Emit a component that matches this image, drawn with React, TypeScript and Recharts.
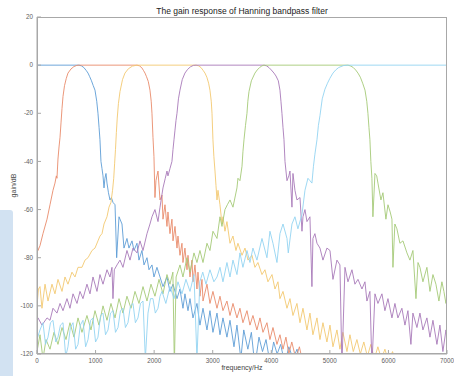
import React from "react";
import { LineChart, Line, XAxis, YAxis } from "recharts";

type Pt = [number, number];

// frequency (Hz) / gain (dB) pairs
const xTicks = [0, 1000, 2000, 3000, 4000, 5000, 6000, 7000];
const yTicks = [-120, -100, -80, -60, -40, -20, 0, 20];

const band1: Pt[] = [
  [0, 0], [717, 0], [760, -0.3], [800, -1], [840, -2.2], [871, -3.3], [900, -4.8], [930, -6.5], [960, -8.5], [990, -10.4],
  [1020, -15], [1041, -20], [1060, -26], [1075, -31], [1092, -40], [1110, -43], [1127, -46], [1144, -51], [1160, -47], [1178, -45],
  [1195, -49], [1220, -53], [1246, -56], [1270, -55], [1297, -57], [1332, -58], [1360, -80], [1400, -63], [1451, -66], [1485, -76],
  [1536, -72], [1570, -76], [1622, -73], [1656, -77], [1707, -74], [1741, -81], [1792, -77], [1827, -83], [1878, -80], [1912, -85],
  [1963, -83], [1997, -88], [2048, -84], [2100, -88], [2151, -92], [2219, -88], [2270, -94], [2322, -91], [2390, -97], [2441, -93],
  [2492, -101], [2526, -95], [2578, -102], [2612, -97], [2663, -105], [2731, -99], [2782, -108], [2834, -101], [2902, -110], [2953, -102],
  [3004, -111], [3073, -103], [3124, -112], [3175, -105], [3243, -113], [3295, -106], [3363, -117], [3414, -108], [3480, -122], [3530, -110],
  [3600, -118], [3660, -111], [3720, -125], [3790, -113], [3850, -119], [3910, -114], [3980, -124], [4040, -115], [4100, -120], [4160, -116],
  [4230, -124], [4300, -117], [4370, -122], [4440, -118], [4510, -126], [4560, -121], [4620, -130],
];

const band2: Pt[] = [
  [0, -74], [17, -77], [51, -75], [102, -70], [171, -64], [222, -58], [273, -52], [307, -49], [330, -46], [341, -47],
  [358, -39], [376, -34], [393, -30], [410, -24], [427, -18], [444, -13], [470, -8.5], [500, -5.5], [529, -3.3], [580, -1.6],
  [630, -0.6], [680, -0.1], [717, 0], [1707, 0], [1750, -0.3], [1790, -1.1], [1820, -2.3], [1844, -3.3], [1870, -4.8], [1900, -6.8],
  [1929, -10.4], [1950, -15], [1963, -20], [1980, -30], [1997, -38], [2014, -55], [2031, -48], [2048, -46], [2066, -44], [2100, -56],
  [2134, -54], [2151, -64], [2185, -58], [2219, -67], [2236, -61], [2270, -70], [2304, -64], [2322, -73], [2356, -67], [2390, -76],
  [2407, -71], [2441, -79], [2475, -74], [2492, -82], [2526, -76], [2561, -85], [2578, -79], [2612, -88], [2646, -81], [2663, -90],
  [2697, -83], [2731, -93], [2748, -86], [2782, -96], [2817, -89], [2834, -98], [2902, -91], [2953, -99], [3004, -94], [3073, -101],
  [3124, -96], [3175, -102], [3243, -98], [3295, -104], [3346, -99], [3414, -105], [3465, -101], [3516, -107], [3585, -102], [3636, -108],
  [3687, -104], [3755, -110], [3807, -105], [3858, -111], [3926, -107], [3977, -114], [4029, -109], [4097, -116], [4148, -112], [4200, -118],
  [4250, -113], [4300, -120], [4350, -115], [4420, -122], [4480, -117], [4550, -125],
];

const band3: Pt[] = [
  [0, -100], [25, -93], [51, -92], [85, -101], [137, -91], [188, -98], [256, -91], [307, -95], [358, -89], [427, -94],
  [478, -88], [529, -91], [597, -86], [649, -88], [700, -84], [768, -84], [819, -81], [871, -80], [939, -77], [990, -76],
  [1041, -73], [1075, -71], [1110, -70], [1144, -66], [1195, -63], [1229, -59], [1263, -57], [1290, -52], [1310, -47], [1325, -41],
  [1340, -35], [1355, -28], [1370, -22], [1390, -16], [1417, -11], [1460, -6], [1502, -3.3], [1560, -1.5], [1630, -0.4], [1707, 0],
  [2715, 0], [2760, -0.3], [2800, -1], [2840, -2.3], [2868, -3.3], [2900, -5], [2930, -7.5], [2953, -10.4], [2975, -15], [2988, -20],
  [3004, -31], [3020, -38], [3039, -44], [3056, -50], [3073, -56], [3090, -52], [3124, -58], [3158, -66], [3175, -63], [3209, -69],
  [3243, -65], [3295, -74], [3346, -71], [3397, -77], [3431, -74], [3500, -79], [3551, -76], [3602, -81], [3670, -79], [3721, -84],
  [3772, -82], [3841, -87], [3892, -85], [3943, -90], [4012, -87], [4063, -93], [4114, -90], [4148, -97], [4200, -94], [4268, -101],
  [4319, -97], [4370, -104], [4438, -99], [4490, -107], [4541, -101], [4609, -110], [4660, -103], [4711, -112], [4780, -105], [4831, -114],
  [4882, -107], [4950, -115], [5002, -108], [5053, -117], [5121, -110], [5172, -118], [5223, -111], [5292, -119], [5343, -112], [5400, -119],
  [5462, -114], [5520, -120], [5580, -115], [5640, -121], [5700, -116], [5760, -122], [5820, -117], [5880, -122], [5940, -118], [6000, -123],
  [6070, -119], [6140, -124], [6210, -120], [6280, -125], [6350, -121], [6420, -127],
];

const band4: Pt[] = [
  [0, -106], [17, -105], [85, -108], [171, -105], [222, -106], [273, -101], [341, -103], [393, -99], [444, -102], [512, -97],
  [563, -101], [615, -95], [683, -99], [734, -94], [785, -97], [853, -91], [905, -95], [956, -88], [1024, -94], [1075, -87],
  [1127, -91], [1195, -85], [1246, -88], [1280, -84], [1297, -97], [1320, -85], [1366, -83], [1417, -81], [1468, -84], [1536, -77],
  [1588, -81], [1639, -76], [1707, -78], [1758, -73], [1810, -77], [1878, -70], [1929, -66], [1963, -63], [2014, -60], [2066, -65],
  [2100, -59], [2151, -51], [2190, -47], [2219, -44], [2236, -46], [2270, -43], [2304, -40], [2322, -35], [2339, -31], [2356, -27],
  [2373, -23], [2390, -20], [2415, -14], [2441, -10.4], [2480, -6], [2526, -3.3], [2570, -1.8], [2620, -0.7], [2670, -0.1], [2715, 0],
  [3876, 0], [3920, -0.3], [3960, -1], [4000, -2], [4046, -3.3], [4080, -4.5], [4120, -6.5], [4148, -10.4], [4165, -15], [4182, -20],
  [4200, -26], [4217, -31], [4234, -40], [4268, -48], [4300, -46], [4319, -44], [4353, -59], [4370, -45], [4404, -52], [4438, -56],
  [4490, -55], [4524, -69], [4541, -63], [4575, -60], [4609, -65], [4660, -63], [4694, -92], [4711, -72], [4745, -70], [4780, -74],
  [4831, -76], [4882, -81], [4950, -76], [5002, -77], [5053, -89], [5121, -81], [5172, -83], [5206, -125], [5258, -84], [5309, -90],
  [5377, -85], [5428, -91], [5480, -89], [5548, -93], [5599, -90], [5633, -98], [5684, -94], [5718, -125], [5770, -95], [5821, -99],
  [5889, -95], [5940, -102], [5992, -97], [6060, -105], [6111, -99], [6162, -105], [6230, -101], [6282, -108], [6333, -102], [6384, -116],
  [6418, -103], [6487, -109], [6538, -103], [6589, -110], [6657, -105], [6709, -113], [6760, -106], [6828, -116], [6879, -108], [6930, -119],
  [6982, -110], [7000, -112],
];

const band5: Pt[] = [
  [0, -119], [51, -112], [102, -122], [154, -114], [222, -118], [290, -111], [358, -116], [427, -109], [495, -114], [563, -107],
  [632, -113], [700, -105], [768, -111], [853, -104], [922, -110], [990, -102], [1058, -108], [1127, -100], [1195, -106], [1263, -99],
  [1332, -105], [1400, -97], [1468, -103], [1536, -96], [1605, -101], [1673, -94], [1741, -99], [1810, -92], [1878, -98], [1946, -91],
  [2014, -96], [2083, -89], [2151, -95], [2219, -87], [2270, -91], [2320, -86], [2345, -125], [2375, -88], [2441, -83], [2492, -88],
  [2560, -80], [2612, -86], [2680, -78], [2731, -82], [2782, -77], [2834, -82], [2902, -74], [2953, -77], [3004, -69], [3073, -72],
  [3124, -63], [3158, -67], [3209, -60], [3250, -58], [3295, -56], [3346, -59], [3414, -51], [3431, -47], [3465, -48], [3500, -42],
  [3516, -36], [3534, -31], [3560, -25], [3585, -20], [3600, -15], [3619, -11], [3660, -6.5], [3721, -3.3], [3760, -2], [3800, -1],
  [3840, -0.3], [3876, 0], [5310, 0], [5360, -0.4], [5400, -1], [5440, -2], [5480, -3.3], [5520, -5], [5560, -7.5], [5600, -10.4],
  [5630, -15], [5650, -20], [5668, -26], [5684, -31], [5700, -40], [5718, -47], [5735, -63], [5770, -45], [5800, -46], [5821, -49],
  [5872, -56], [5906, -53], [5957, -64], [5992, -58], [6030, -61], [6060, -64], [6077, -84], [6110, -66], [6145, -68], [6196, -74],
  [6248, -73], [6316, -78], [6367, -81], [6418, -77], [6470, -97], [6505, -82], [6538, -84], [6589, -90], [6657, -84], [6709, -94],
  [6760, -87], [6811, -91], [6862, -98], [6913, -90], [6947, -94], [6982, -99], [7000, -96],
];

const band6: Pt[] = [
  [0, -114], [51, -110], [102, -107], [145, -116], [188, -113], [230, -107], [273, -106], [320, -115], [358, -113], [400, -108],
  [444, -107], [490, -121], [529, -117], [570, -109], [615, -107], [660, -118], [700, -116], [740, -108], [785, -106], [830, -117],
  [871, -114], [915, -106], [956, -105], [1000, -115], [1041, -113], [1085, -104], [1127, -103], [1170, -112], [1212, -110], [1255, -103],
  [1297, -102], [1340, -111], [1383, -109], [1425, -102], [1468, -101], [1510, -109], [1553, -107], [1596, -100], [1639, -99], [1680, -107],
  [1724, -105], [1767, -99], [1810, -98], [1850, -122], [1895, -103], [1938, -97], [1980, -97], [2020, -103], [2066, -101], [2100, -96],
  [2134, -94], [2200, -99], [2270, -92], [2340, -97], [2407, -90], [2475, -95], [2543, -89], [2612, -94], [2680, -87], [2731, -122],
  [2780, -90], [2830, -86], [2885, -91], [2953, -85], [3020, -90], [3073, -88], [3124, -84], [3175, -90], [3243, -82], [3295, -88],
  [3346, -81], [3414, -87], [3465, -78], [3516, -84], [3585, -77], [3636, -82], [3687, -76], [3755, -81], [3841, -72], [3926, -80],
  [3977, -69], [4029, -74], [4097, -82], [4148, -70], [4200, -66], [4268, -72], [4290, -78], [4353, -66], [4404, -63], [4455, -68],
  [4524, -62], [4575, -52], [4626, -47], [4660, -48], [4694, -49], [4720, -42], [4745, -37], [4780, -31], [4805, -25], [4831, -21],
  [4870, -14], [4916, -10], [4960, -7.5], [5000, -5.5], [5053, -3.3], [5100, -2], [5150, -1], [5230, -0.2], [5310, 0], [7000, 0],
];

const bands = [
  { id: "b1", pts: band1, color: "#5e9dd6" },
  { id: "b2", pts: band2, color: "#e98b6b" },
  { id: "b3", pts: band3, color: "#f3c870" },
  { id: "b4", pts: band4, color: "#a879b9" },
  { id: "b5", pts: band5, color: "#a5ca77" },
  { id: "b6", pts: band6, color: "#93d4f2" },
];

const font = "'Liberation Sans', Arial, sans-serif";
const boxColor = "#a8a8a8";
const tickText = "#5e5e5e";

function BottomTick({ x, y, payload }: any) {
  return (
    <g>
      <line x1={x} x2={x} y1={y} y2={y - 4} stroke={boxColor} />
      <text x={x} y={y + 9} textAnchor="middle" fontSize={6.3} fill={tickText} fontFamily={font}>
        {payload.value}
      </text>
    </g>
  );
}

function LeftTick({ x, y, payload }: any) {
  return (
    <g>
      <line x1={x} x2={x + 4} y1={y} y2={y} stroke={boxColor} />
      <text x={x - 4} y={y + 2.2} textAnchor="end" fontSize={6.3} fill={tickText} fontFamily={font}>
        {payload.value}
      </text>
    </g>
  );
}

function TopTick({ x, y }: any) {
  return <line x1={x} x2={x} y1={y} y2={y + 4} stroke={boxColor} />;
}

function RightTick({ x, y }: any) {
  return <line x1={x} x2={x - 4} y1={y} y2={y} stroke={boxColor} />;
}

export default function App() {
  return (
    <div style={{ position: "absolute", left: 0, top: 0, width: 454, height: 376, background: "#fff", overflow: "hidden" }}>
      <div style={{ position: "absolute", left: 0, top: 210, width: 13, height: 166, background: "#d2e2f2", borderTopRightRadius: 3 }} />
      <div
        style={{
          position: "absolute", left: 37, top: 6, width: 410, textAlign: "center",
          fontFamily: font, fontSize: 8.5, lineHeight: "10px", color: "#222",
        }}
      >
        The gain response of Hanning bandpass filter
      </div>
      <div
        style={{
          position: "absolute", left: 37, top: 363, width: 410, textAlign: "center",
          fontFamily: font, fontSize: 7, lineHeight: "9px", color: "#444",
        }}
      >
        frequency/Hz
      </div>
      <div style={{ position: "absolute", left: 12.5, top: 185, width: 0, height: 0 }}>
        <div
          style={{
            position: "absolute", left: -30, top: -4.5, width: 60, textAlign: "center",
            transform: "rotate(-90deg)", fontFamily: font, fontSize: 7, lineHeight: "9px", color: "#444",
          }}
        >
          gain/dB
        </div>
      </div>
      <div style={{ position: "absolute", left: 0, top: 0 }}>
        <LineChart width={454} height={376} margin={{ top: 17, right: 7, bottom: 0, left: 0 }}>
          <XAxis
            xAxisId={0}
            type="number"
            dataKey="f"
            domain={[0, 7000]}
            ticks={xTicks}
            allowDataOverflow
            height={22}
            tickSize={0}
            tickMargin={0}
            stroke={boxColor}
            tick={<BottomTick />}
            interval={0}
          />
          <XAxis
            xAxisId="top"
            orientation="top"
            type="number"
            dataKey="f"
            domain={[0, 7000]}
            ticks={xTicks}
            allowDataOverflow
            height={0}
            tickSize={0}
            tickMargin={0}
            stroke={boxColor}
            tick={<TopTick />}
            interval={0}
          />
          <YAxis
            yAxisId={0}
            type="number"
            domain={[-120, 20]}
            ticks={yTicks}
            allowDataOverflow
            width={37}
            tickSize={0}
            tickMargin={0}
            stroke={boxColor}
            tick={<LeftTick />}
            interval={0}
          />
          <YAxis
            yAxisId="right"
            orientation="right"
            type="number"
            domain={[-120, 20]}
            ticks={yTicks}
            allowDataOverflow
            width={0}
            tickSize={0}
            tickMargin={0}
            stroke={boxColor}
            tick={<RightTick />}
            interval={0}
          />
          {bands.map((b) => (
            <Line
              key={b.id}
              data={b.pts.map(([f, g]) => ({ f, g }))}
              dataKey="g"
              xAxisId={0}
              yAxisId={0}
              type="linear"
              stroke={b.color}
              strokeWidth={0.9}
              dot={false}
              activeDot={false}
              isAnimationActive={false}
            />
          ))}
        </LineChart>
      </div>
      <div
        style={{
          position: "absolute", left: 37, top: 17, width: 410, height: 337,
          boxSizing: "border-box", border: `1px solid ${boxColor}`, pointerEvents: "none",
        }}
      />
    </div>
  );
}
